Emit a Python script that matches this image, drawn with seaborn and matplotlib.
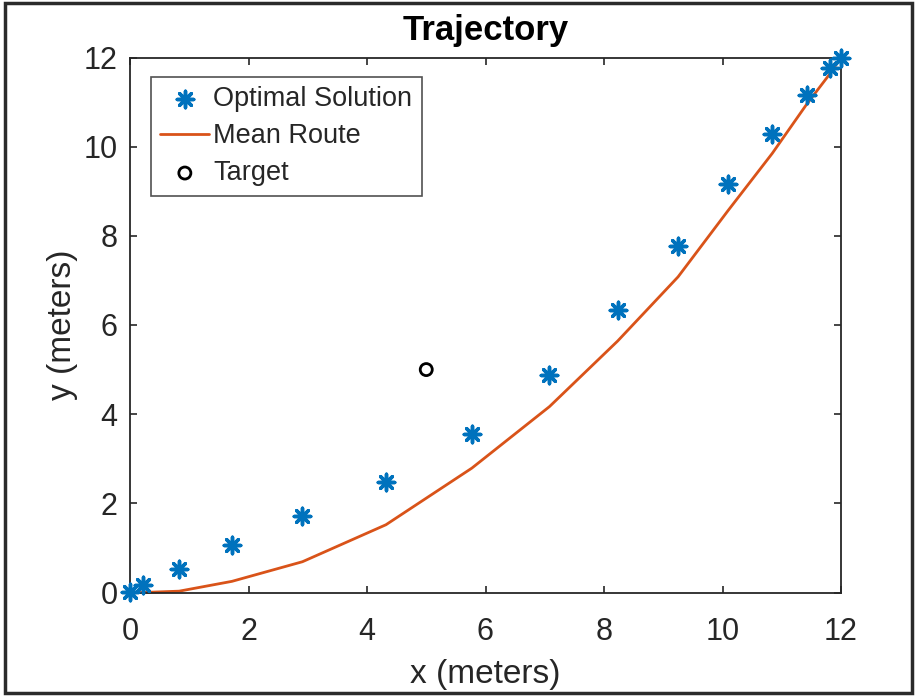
import matplotlib
matplotlib.use("Agg")
import matplotlib.pyplot as plt
import matplotlib.patches as mpatches
import seaborn as sns
import pandas as pd

# Data
opt_x = [0.0, 0.22, 0.83, 1.72, 2.91, 4.32, 5.77, 7.08, 8.23, 9.25, 10.09, 10.84, 11.42, 11.81, 12.0]
opt_y = [0.02, 0.17, 0.52, 1.07, 1.72, 2.48, 3.55, 4.87, 6.33, 7.77, 9.16, 10.29, 11.15, 11.77, 12.0]
route_x = [0.0, 0.22, 0.83, 1.72, 2.91, 4.32, 5.77, 7.08, 8.23, 9.25, 10.09, 10.84, 11.42, 11.81, 12.0]
route_y = [0.0, 0.0, 0.03, 0.25, 0.69, 1.52, 2.79, 4.17, 5.64, 7.08, 8.56, 9.85, 10.95, 11.63, 12.0]
target_x = [5.0]
target_y = [5.0]
x_ticks = [0, 2, 4, 6, 8, 10, 12]
y_ticks = [0, 2, 4, 6, 8, 10, 12]

sns.set_theme(style="white")
plt.rcParams['font.family'] = ['Liberation Sans', 'DejaVu Sans']

BLUE = "#0072BD"
ORANGE = "#D95319"
AX = "#262626"

fig = plt.figure(figsize=(9.17, 6.96), dpi=100)
ax = fig.add_axes([130/917, 1-592.5/696, 711/917, 535/696])

df_opt = pd.DataFrame({"x": opt_x, "y": opt_y})
df_route = pd.DataFrame({"x": route_x, "y": route_y})
df_t = pd.DataFrame({"x": target_x, "y": target_y})

sns.lineplot(data=df_route, x="x", y="y", ax=ax, color=ORANGE, linewidth=2.0,
             sort=False, estimator=None, label="Mean Route", zorder=2)
sns.scatterplot(data=df_opt, x="x", y="y", ax=ax, marker=(8, 2, 0), s=140,
                color=BLUE, edgecolor=BLUE, linewidth=2.5, label="Optimal Solution",
                zorder=3, clip_on=False)
sns.scatterplot(data=df_t, x="x", y="y", ax=ax, marker="o", s=75,
                facecolor="none", edgecolor="black", linewidth=2.0, label="Target", zorder=3)
for ln in ax.lines:
    ln.set_clip_on(False)

ax.set_xlim(0, 12)
ax.set_ylim(0, 12)
ax.set_xticks(x_ticks)
ax.set_yticks(y_ticks)
ax.tick_params(direction="in", length=5, width=1.2, colors=AX, labelsize=22,
               top=True, right=True, bottom=True, left=True)
ax.tick_params(axis="x", pad=18)
ax.tick_params(axis="y", pad=9)
for s in ax.spines.values():
    s.set_visible(True)
    s.set_color(AX)
    s.set_linewidth(1.3)

ax.set_xlabel("x (meters)", fontsize=24, color=AX, labelpad=8.5)
ax.set_ylabel("y (meters)", fontsize=24, color=AX, labelpad=4)
ax.set_title("Trajectory", fontsize=25, fontweight="bold", color="black", pad=12.5)

handles, labels = ax.get_legend_handles_labels()
order = [labels.index("Optimal Solution"), labels.index("Mean Route"), labels.index("Target")]
leg = ax.legend([handles[i] for i in order], [labels[i] for i in order],
                loc="upper left", bbox_to_anchor=(21/711, (592.5-77)/535), borderaxespad=0,
                fontsize=19.5, frameon=True, fancybox=False, edgecolor=AX,
                handlelength=1.8, handletextpad=0.15, labelspacing=0.4,
                borderpad=0.35)
leg.get_frame().set_linewidth(1.2)
for t in leg.get_texts():
    t.set_color(AX)

# outer frame of the screenshot
rect = mpatches.Rectangle((5/917, 3/696), 907/917, 690/696, transform=fig.transFigure,
                          fill=False, edgecolor="#2b2b2b", linewidth=2.5)
fig.patches.append(rect)

fig.savefig("out.png", dpi=100, facecolor="white")
